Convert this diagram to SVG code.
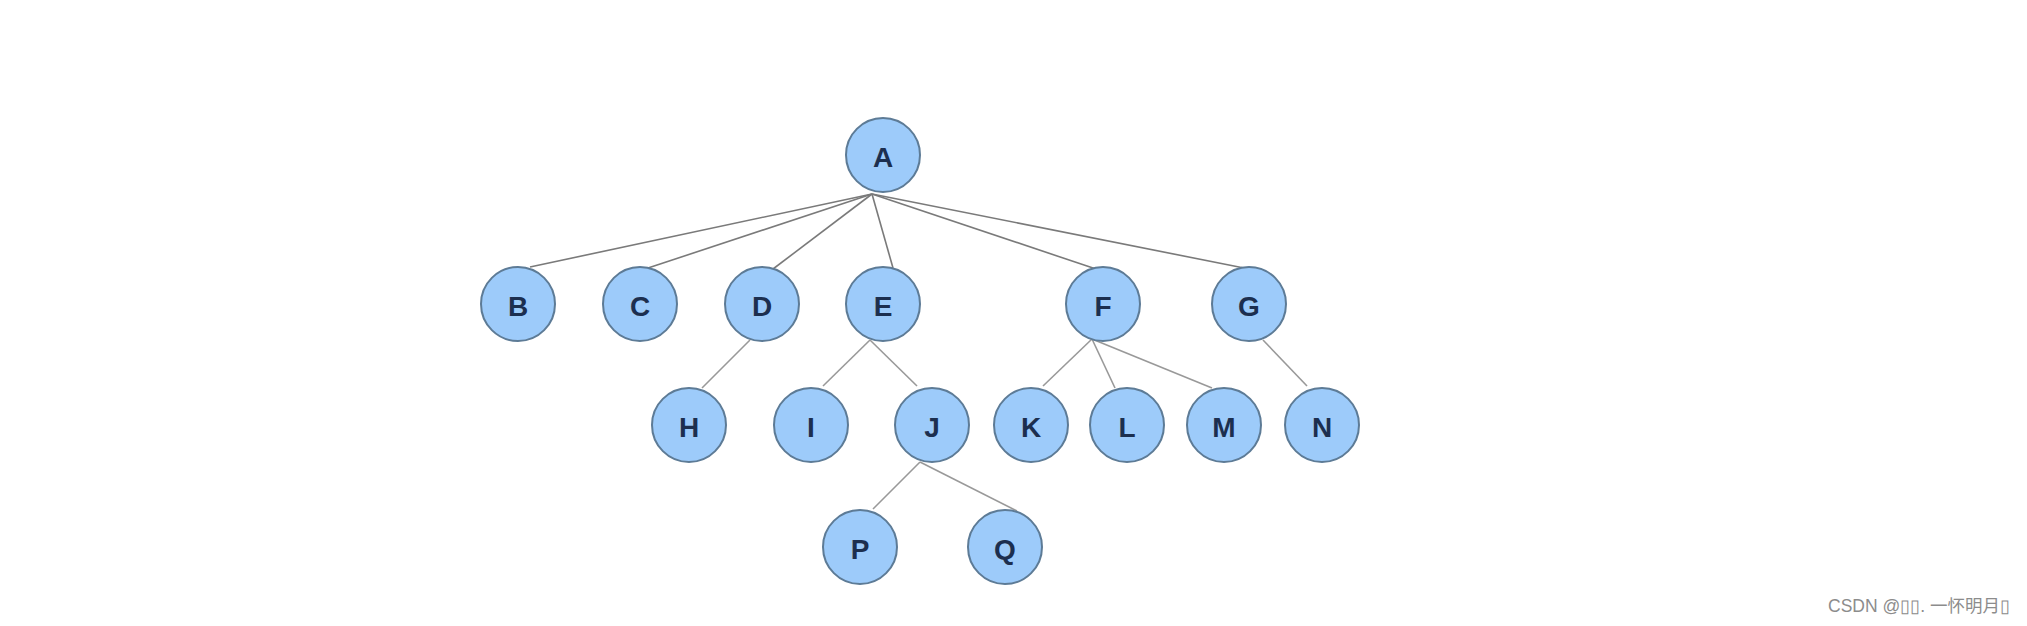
<svg xmlns="http://www.w3.org/2000/svg" width="2027" height="626" viewBox="0 0 2027 626">
<style>
.n circle{fill:#9dcbfa;stroke:#5d7b96;stroke-width:2}
.n text{font-family:"Liberation Sans",Arial,sans-serif;font-size:28px;font-weight:bold;fill:#1c2f4f;text-anchor:middle;dominant-baseline:central}
.e line{stroke:#7a7a7a;stroke-width:1.6}
.e .lt{stroke:#999}
.wm{font-family:"Liberation Sans","Noto Sans CJK SC",sans-serif;font-size:17.5px;fill:#8c8c8c}
</style>
<rect width="2027" height="626" fill="#fff"/>
<g id="connectors" class="e">
<line x1="872" y1="194" x2="530" y2="267"/>
<line x1="872" y1="194" x2="648" y2="268"/>
<line x1="872" y1="194" x2="773" y2="269"/>
<line x1="872" y1="194" x2="893" y2="268"/>
<line x1="872" y1="194" x2="1099" y2="270"/>
<line x1="872" y1="194" x2="1244" y2="268"/>
<line class="lt" x1="750" y1="340" x2="702" y2="388"/>
<line class="lt" x1="870" y1="340" x2="823" y2="386"/>
<line class="lt" x1="870" y1="340" x2="917" y2="386"/>
<line class="lt" x1="1092" y1="339" x2="1043" y2="386"/>
<line class="lt" x1="1092" y1="339" x2="1115" y2="388"/>
<line class="lt" x1="1092" y1="339" x2="1212" y2="388"/>
<line class="lt" x1="1263" y1="340" x2="1307" y2="386"/>
<line class="lt" x1="920" y1="462" x2="873" y2="509"/>
<line class="lt" x1="920" y1="462" x2="1017" y2="511"/>
</g>
<g id="A" class="n"><circle cx="883" cy="155" r="37"/><text x="883" y="157">A</text></g>
<g id="B" class="n"><circle cx="518" cy="304" r="37"/><text x="518" y="306">B</text></g>
<g id="C" class="n"><circle cx="640" cy="304" r="37"/><text x="640" y="306">C</text></g>
<g id="D" class="n"><circle cx="762" cy="304" r="37"/><text x="762" y="306">D</text></g>
<g id="E" class="n"><circle cx="883" cy="304" r="37"/><text x="883" y="306">E</text></g>
<g id="F" class="n"><circle cx="1103" cy="304" r="37"/><text x="1103" y="306">F</text></g>
<g id="G" class="n"><circle cx="1249" cy="304" r="37"/><text x="1249" y="306">G</text></g>
<g id="H" class="n"><circle cx="689" cy="425" r="37"/><text x="689" y="427">H</text></g>
<g id="I" class="n"><circle cx="811" cy="425" r="37"/><text x="811" y="427">I</text></g>
<g id="J" class="n"><circle cx="932" cy="425" r="37"/><text x="932" y="427">J</text></g>
<g id="K" class="n"><circle cx="1031" cy="425" r="37"/><text x="1031" y="427">K</text></g>
<g id="L" class="n"><circle cx="1127" cy="425" r="37"/><text x="1127" y="427">L</text></g>
<g id="M" class="n"><circle cx="1224" cy="425" r="37"/><text x="1224" y="427">M</text></g>
<g id="N" class="n"><circle cx="1322" cy="425" r="37"/><text x="1322" y="427">N</text></g>
<g id="P" class="n"><circle cx="860" cy="547" r="37"/><text x="860" y="549">P</text></g>
<g id="Q" class="n"><circle cx="1005" cy="547" r="37"/><text x="1005" y="549">Q</text></g>
<text class="wm" x="1828" y="612">CSDN @▯▯. 一怀明月▯</text>
</svg>
